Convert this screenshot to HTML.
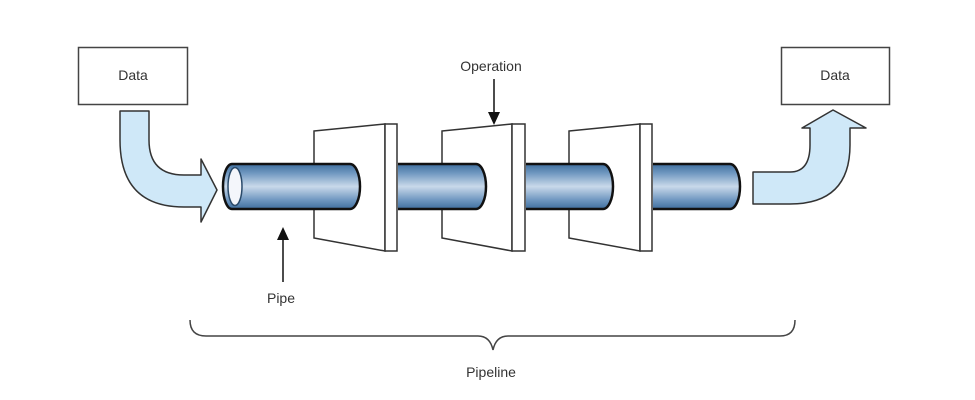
<!DOCTYPE html>
<html><head><meta charset="utf-8"><style>
html,body{margin:0;padding:0;background:#fff;}
svg{display:block;}
text{font-family:"Liberation Sans",Arial,sans-serif;fill:#333;}
</style></head><body>
<svg width="975" height="400" viewBox="0 0 975 400" xmlns="http://www.w3.org/2000/svg">
<defs>
<linearGradient id="pg" x1="0" y1="0" x2="0" y2="1">
<stop offset="0" stop-color="#3f6f9e"/>
<stop offset="0.2" stop-color="#6f97c0"/>
<stop offset="0.5" stop-color="#c9d9ea"/>
<stop offset="0.8" stop-color="#6f97c0"/>
<stop offset="1" stop-color="#3f6f9e"/>
</linearGradient>
</defs>
<!-- Data boxes -->
<rect x="78.5" y="47.5" width="109" height="57" fill="#fff" stroke="#444" stroke-width="1.5"/>
<text x="133" y="80" font-size="14" text-anchor="middle">Data</text>
<rect x="781.5" y="47.5" width="108" height="57" fill="#fff" stroke="#444" stroke-width="1.5"/>
<text x="835" y="80" font-size="14" text-anchor="middle">Data</text>

<!-- left curved arrow -->
<path d="M120 111 L149 111 L149 140 Q149 175 184 175 L201 175 L201 159 L217 190 L201 222 L201 207 L184 207 Q120 207 120 140 Z" fill="#cfe8f8" stroke="#333" stroke-width="1.5" stroke-linejoin="round"/>
<!-- right curved arrow -->
<path d="M753 172 L790 172 Q810 172 810 145 L810 128 L802 128 L833 110 L866 128 L850 128 L850 145 Q850 204 790 204 L753 204 Z" fill="#cfe8f8" stroke="#333" stroke-width="1.5" stroke-linejoin="round"/>

<!-- frames -->
<g fill="#fff" stroke="#333" stroke-width="1.5">
<polygon points="314,131 385,124 385,251 314,238"/>
<rect x="385" y="124" width="12" height="127"/>
<polygon points="442,131 512,124 512,251 442,238"/>
<rect x="512" y="124" width="13" height="127"/>
<polygon points="569,131 640,124 640,251 569,238"/>
<rect x="640" y="124" width="12" height="127"/>
</g>

<!-- pipes -->
<g fill="url(#pg)" stroke="#111" stroke-width="2.5">
<path d="M232 164 L350 164 A10 22.5 0 0 1 350 209 L232 209 A9 22.5 0 0 1 232 164 Z"/>
<path d="M398 164 L476 164 A10 22.5 0 0 1 476 209 L398 209"/>
<path d="M526 164 L603 164 A10 22.5 0 0 1 603 209 L526 209"/>
<path d="M653 164 L730 164 A10 22.5 0 0 1 730 209 L653 209"/>
</g>
<ellipse cx="235" cy="186.5" rx="7" ry="19" fill="#f4f6fb" stroke="#2a4a6a" stroke-width="1.5"/>

<!-- Operation label -->
<text x="491" y="71" font-size="14" text-anchor="middle">Operation</text>
<line x1="494" y1="79" x2="494" y2="114" stroke="#111" stroke-width="1.5"/>
<polygon points="488,112 500,112 494,125" fill="#111"/>

<!-- Pipe label -->
<line x1="283" y1="282" x2="283" y2="238" stroke="#111" stroke-width="1.5"/>
<polygon points="277,240 289,240 283,227" fill="#111"/>
<text x="281" y="303" font-size="14" text-anchor="middle">Pipe</text>

<!-- brace -->
<path d="M190 320 Q190 336 206 336 L478 336 Q490 336 493 350 Q496 336 508 336 L780 336 Q795 336 795 320" fill="none" stroke="#444" stroke-width="1.5"/>
<text x="491" y="377" font-size="14" text-anchor="middle">Pipeline</text>
</svg>
</body></html>
